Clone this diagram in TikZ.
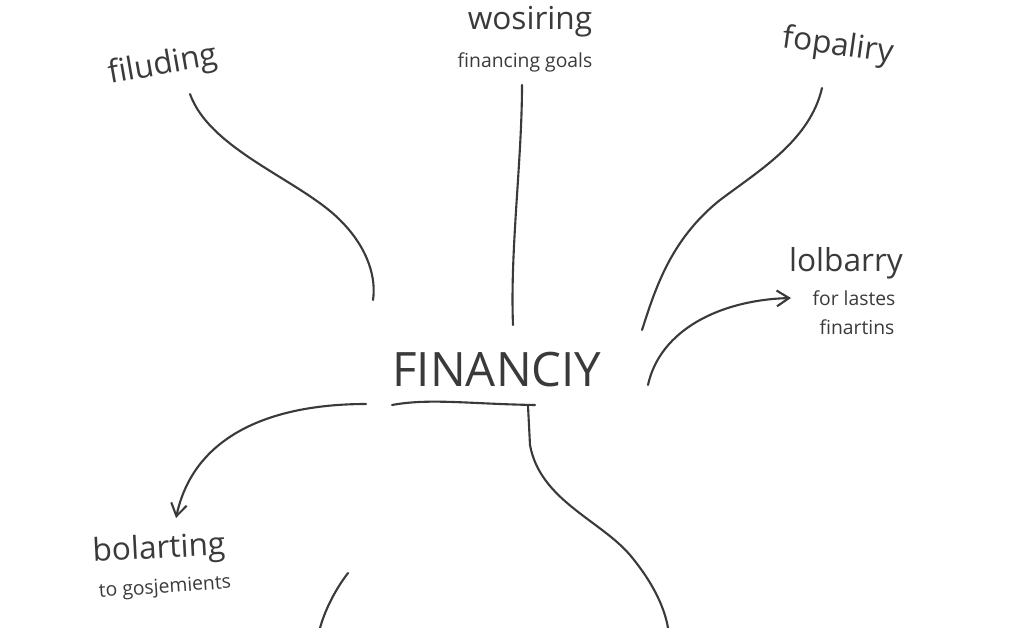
\documentclass[tikz,border=0pt]{standalone}
\usepackage{fontspec}
\setmainfont{Open Sans}
\usetikzlibrary{arrows.meta}
\definecolor{pen}{HTML}{3A3A3A}
\tikzset{
  stroke/.style={draw=pen, line width=1.2pt, line cap=round},
  big/.style={text=pen, font=\fontsize{18}{20}\selectfont},
  small/.style={text=pen, font=\fontsize{11}{14}\selectfont},
}

\begin{document}
\begin{tikzpicture}[x=0.02cm, y=-0.02cm]
\useasboundingbox (0,0) rectangle (1024,628);

\node[big, rotate=10] (filuding) at (163,66) {filuding};
\node[big] (wosiring) at (530,22) {wosiring};
\node[small] (goals) at (525,62) {financing goals};
\node[big, rotate=-8] (fopaliry) at (838,47) {fopaliry};
\node[big] (lolbarry) at (846,263) {lolbarry};
\node[small] (lastes) at (854,298) {for lastes};
\node[small] (finartins) at (857,327) {finartins};
\node[text=pen, font=\fontsize{27}{30}\selectfont] (financiy) at (497,370) {FINANCIY};
\node[big, rotate=3] (bolarting) at (159,550) {bolarting};
\node[small, rotate=4] (gosjemients) at (165,588) {to gosjemients};

\coordinate (c1) at (373,300);
\coordinate (c2) at (513,325);
\coordinate (c3) at (642,330);
\coordinate (c4) at (648,385);
\coordinate (u1) at (392,405);
\coordinate (u2) at (535,405);
\coordinate (c5) at (366,404);
\coordinate (c6) at (668,628);
\coordinate (c7) at (348,573);
\coordinate (c8) at (320,628);

% spokes
\draw[stroke] ([shift={(27,28)}]filuding.center) .. controls (210,150) and (300,180) .. (340,220)
  .. controls (370,250) and (376,280) .. (c1);
\draw[stroke] ([shift={(-3,23)}]goals.center) .. controls (522,160) and (510,250) .. (c2);
\draw[stroke] ([shift={(-16,41)}]fopaliry.center) .. controls (810,140) and (760,170) .. (720,200)
  .. controls (670,240) and (655,290) .. (c3);
\draw[stroke, -{Straight Barb[length=7pt, width=9pt]}] (c4) .. controls (660,330) and (720,300) .. ([shift={(-63,0)}]lastes.center);

% centre
\draw[stroke] (u1) .. controls (430,398) and (470,404) .. (u2);
\draw[stroke] (528,406) -- (530,445) .. controls (540,500) and (600,520) .. (630,555)
  .. controls (655,585) and (665,610) .. (c6);
\draw[stroke, -{Straight Barb[length=7pt, width=9pt]}] (c5) .. controls (280,404) and (195,430) .. ([shift={(17,-32)}]bolarting.center);
\draw[stroke] (c7) .. controls (335,590) and (325,610) .. (c8);

\end{tikzpicture}
\end{document}
